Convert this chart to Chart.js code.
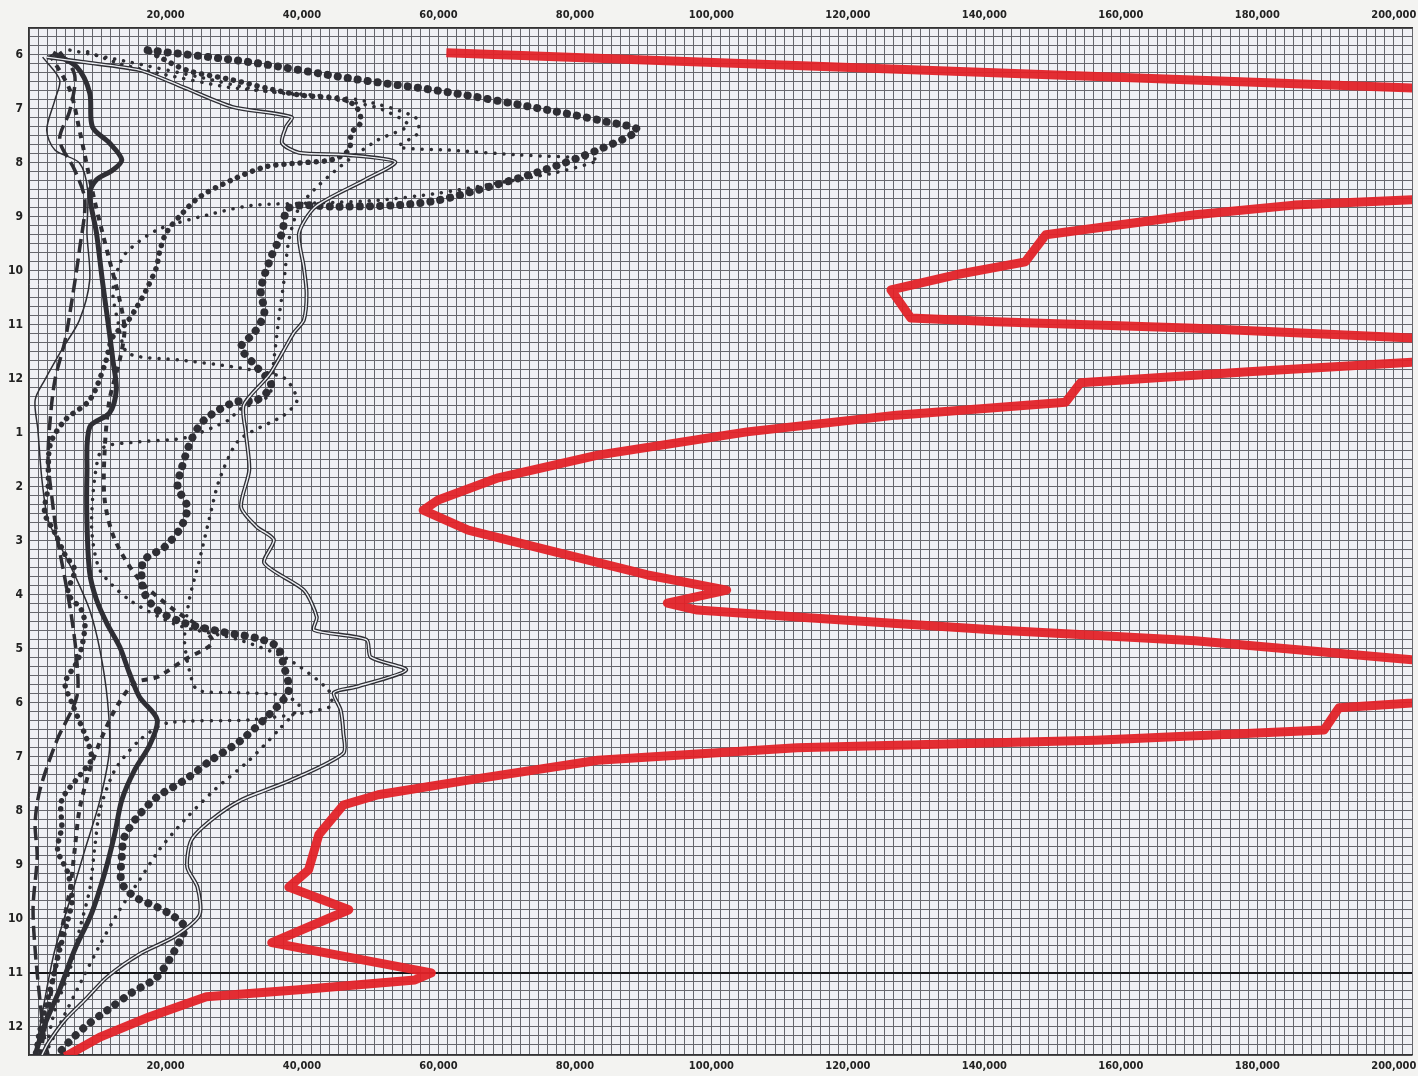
<!DOCTYPE html>
<html>
<head>
<meta charset="utf-8">
<script src="https://cdn.jsdelivr.net/npm/chart.js@4.4.1/dist/chart.umd.min.js"></script>
<style>
  html, body { margin: 0; padding: 0; background: #f3f3f1; }
  #wrap { width: 1418px; height: 1076px; }
</style>
</head>
<body>
<div id="wrap"><canvas id="traffic"></canvas></div>
<script>
// vehicles counted (x) against hour of day (y), 6 a.m. to past midnight
var hourTicks = [6, 7, 8, 9, 10, 11, 12, 13, 14, 15, 16, 17, 18, 19, 20, 21, 22, 23, 24];
var countTicks = [20000, 40000, 60000, 80000, 100000, 120000, 140000, 160000, 180000, 200000];

var redTotal = [[61200,5.96],[240000,6.78],[250000,7.7],[225000,8.4],[205000,8.67],[185500,8.78],[171000,8.96],[149100,9.33],[146100,9.83],[135900,10.07],[126400,10.35],[129300,10.87],[141800,10.94],[171000,11.06],[202800,11.24],[235000,11.44],[202800,11.69],[178200,11.87],[154200,12.07],[152000,12.43],[127200,12.67],[105300,12.98],[83400,13.41],[68800,13.83],[60000,14.24],[57800,14.43],[64400,14.8],[76100,15.17],[90700,15.63],[102300,15.91],[93600,16.15],[98000,16.28],[112600,16.41],[141800,16.65],[171000,16.85],[202800,17.2],[230000,17.55],[202800,18.0],[192100,18.09],[189900,18.5],[156400,18.69],[112600,18.83],[83400,19.06],[64400,19.43],[51200,19.7],[46100,19.89],[42500,20.44],[41000,21.09],[38100,21.41],[46900,21.83],[35600,22.44],[59000,23.0],[56600,23.13],[39600,23.31],[26000,23.44],[17700,23.81],[10400,24.19],[7000,24.43],[5300,24.55]];

var bigDots = [[17400,5.91],[32300,6.13],[46900,6.43],[61500,6.69],[76100,7.02],[84800,7.24],[89200,7.39],[83400,7.76],[74600,8.17],[65800,8.5],[60000,8.69],[54200,8.78],[45400,8.81],[38100,8.83],[37100,9.3],[35500,9.74],[34000,10.35],[34500,10.78],[33000,11.15],[31100,11.41],[33400,11.78],[35500,12.11],[33400,12.39],[30100,12.43],[25700,12.76],[23800,13.13],[22300,13.69],[21800,14.0],[23200,14.37],[22300,14.74],[19900,15.11],[16900,15.35],[16500,15.63],[16900,15.96],[18800,16.28],[22800,16.52],[28600,16.69],[33400,16.8],[36400,16.96],[37400,17.33],[38100,17.76],[36600,18.04],[31100,18.69],[26700,19.06],[22800,19.43],[18800,19.74],[15900,20.11],[14000,20.48],[13600,20.85],[13600,21.33],[15500,21.59],[18800,21.78],[21300,21.96],[22800,22.15],[22000,22.44],[18800,23.07],[15000,23.37],[11500,23.69],[8200,24.0],[5700,24.3],[4200,24.52]];

var mediumDots = [[17700,5.94],[23100,6.28],[29800,6.46],[34700,6.61],[39600,6.74],[46400,6.83],[48300,7.02],[48600,7.26],[47300,7.44],[46900,7.76],[44400,7.94],[39600,8.0],[34700,8.07],[29800,8.31],[25000,8.63],[22500,8.93],[20100,9.3],[19100,9.67],[18700,9.93],[17200,10.35],[15800,10.67],[14300,10.96],[12300,11.22],[11100,11.74],[8900,12.39],[5300,12.76],[3100,13.22],[2800,14.0],[2300,14.48],[3800,14.85],[5300,15.26],[6700,15.54],[5700,15.96],[7700,16.28],[8200,16.59],[7200,17.2],[5300,17.63],[6300,18.0],[9200,19.0],[7700,19.3],[4800,19.8],[4800,20.3],[4200,20.72],[5700,21.15],[6300,21.65],[5700,22.02],[4500,22.57],[3100,23.31],[1600,24.06],[900,24.52]];

var doubleLine = [[2600,6.04],[7900,6.13],[16200,6.28],[22500,6.59],[29800,6.96],[38500,7.15],[37700,7.33],[37100,7.63],[39600,7.81],[46400,7.85],[53700,7.98],[49300,8.31],[42000,8.81],[39600,9.3],[40300,9.93],[40700,10.41],[40300,10.91],[38800,11.15],[37400,11.46],[35200,11.93],[31500,12.48],[31800,13.0],[32300,13.69],[31100,14.37],[33400,14.74],[35900,14.98],[34500,15.41],[40300,15.91],[42200,16.41],[41800,16.65],[49500,16.83],[50100,17.15],[55300,17.39],[48000,17.7],[44700,17.81],[45700,18.13],[46100,18.56],[46100,18.93],[38400,19.43],[31100,19.8],[26700,20.17],[23800,20.54],[23200,21.04],[24700,21.41],[25000,21.93],[21300,22.33],[16500,22.63],[11500,23.07],[8200,23.5],[5300,23.87],[2800,24.3],[1900,24.52]];

var heavySolid = [[3500,5.96],[7000,6.22],[8900,6.7],[9300,7.33],[11800,7.63],[13600,7.94],[12300,8.13],[9900,8.31],[8900,8.56],[9900,9.3],[10800,10.22],[11800,11.15],[12300,11.65],[12800,12.2],[11800,12.63],[8900,12.89],[8500,13.74],[8500,14.67],[8900,15.59],[9900,16.09],[11400,16.52],[13300,16.96],[14700,17.44],[16200,17.89],[18800,18.31],[17700,18.78],[15500,19.24],[13600,19.8],[12600,20.41],[11100,21.15],[9200,21.89],[6700,22.57],[4500,23.31],[2300,23.96],[900,24.52]];

var thinSolid = [[2000,6.04],[4500,6.46],[3800,6.83],[2600,7.39],[3800,7.76],[7400,8.0],[8600,8.5],[8500,9.3],[8900,10.17],[7400,10.91],[4800,11.46],[2300,12.02],[900,12.39],[1300,12.94],[1900,13.87],[2800,14.61],[4500,15.07],[6700,15.63],[8900,16.28],[10400,17.02],[11500,17.94],[11800,18.87],[10400,19.8],[8200,20.72],[6000,21.65],[3800,22.57],[2300,23.5],[900,24.52]];

var longDash = [[4500,5.94],[6700,6.37],[6000,7.02],[4500,7.57],[6700,8.13],[8200,8.69],[7400,9.61],[6300,10.54],[5300,11.28],[3800,12.02],[3100,12.76],[2800,13.5],[3400,14.24],[4200,14.98],[5300,15.72],[6300,16.46],[7000,17.2],[7000,17.89],[4100,18.69],[1600,19.61],[900,20.22],[1200,20.85],[600,21.78],[900,22.57],[1600,23.5],[2300,24.24],[2800,24.52]];

var fineDotsA = [[8600,5.94],[13000,6.15],[18700,6.33],[28900,6.59],[34700,6.67],[48300,6.83],[56600,7.15],[57100,7.44],[54200,7.7],[61500,7.76],[71700,7.85],[83400,7.94],[77500,8.17],[68800,8.37],[60000,8.56],[51200,8.69],[42500,8.74],[33000,8.78],[27200,8.93],[18800,9.24],[14000,9.7],[12300,10.35],[13000,10.91],[14500,11.52],[22300,11.65],[30100,11.78],[37400,11.98],[39300,12.39],[37400,12.67],[30800,13.13],[27900,13.87],[26400,14.61],[25000,15.35],[23500,16.09],[22800,16.83],[23500,17.39],[24700,17.76],[30500,17.81],[36900,17.85],[39600,18.04],[36600,18.5],[32300,19.06],[27200,19.61],[22800,20.17],[19100,20.72],[16200,21.28],[13300,21.83],[10400,22.48],[7400,23.22],[4500,23.96],[2300,24.52]];

var fineDotsB = [[6000,5.91],[14700,6.13],[25000,6.41],[33700,6.65],[43900,6.81],[51200,6.98],[55600,7.3],[51200,7.57],[46900,7.94],[42500,8.41],[39600,8.83],[38100,9.43],[37400,10.17],[36600,10.91],[35900,11.65],[35200,12.3],[30800,12.57],[29300,12.76],[22800,13.09],[15500,13.17],[10800,13.28],[9600,13.87],[9200,14.8],[10400,15.54],[14700,16.09],[21800,16.56],[30800,16.83],[38100,17.2],[43900,17.76],[44200,18.07],[32600,18.31],[20300,18.37],[16200,18.69],[12600,19.24],[10400,19.98],[9600,20.72],[8900,21.46],[7400,22.2],[6000,22.94],[3800,23.69],[2300,24.52]];

var shortDash = [[3100,6.0],[6000,6.65],[7400,7.39],[9600,8.69],[11800,9.8],[13300,10.54],[14000,11.09],[13300,11.65],[11800,12.39],[11100,13.31],[11100,14.24],[12600,14.98],[16200,15.72],[21300,16.28],[25700,16.65],[26900,16.89],[22800,17.2],[18800,17.52],[15500,17.63],[13000,18.04],[10700,18.63],[8900,19.24],[7400,19.98],[6700,20.72],[6000,21.46],[4800,22.2],[3800,22.94],[2800,23.69],[1600,24.52]];

var ink = "#2e2e34";
var gridInk = "#66676d";

function pts(list) {
  return list.map(function (p) { return { x: p[0], y: p[1] }; });
}

// nearest whole multiple of step, or null if v is not close to one
function near(v, step, tol) {
  var k = v / step;
  return Math.abs(k - Math.round(k)) < tol ? Math.round(k) : null;
}

function countLabel(v) {
  var k = near(v, 20000, 0.03);
  if (k === null || k <= 0) return "";
  var val = k * 20000;
  return countTicks.indexOf(val) >= 0 ? val.toLocaleString("en-US") : "";
}

function hourLabel(v) {
  var k = near(v, 1, 0.05);
  if (k === null || hourTicks.indexOf(k) < 0) return "";
  return String(k > 12 ? k - 12 : k);
}

var paperFill = {
  id: "paperFill",
  beforeDraw: function (chart) {
    var a = chart.chartArea, c = chart.ctx;
    c.save();
    c.fillStyle = "#f0f1f5";
    c.fillRect(a.left, a.top, a.right - a.left, a.bottom - a.top);
    c.restore();
  }
};

var labelFont = { family: "'Liberation Sans Narrow', 'DejaVu Sans Condensed', sans-serif", size: 11, weight: "bold" };

new Chart(document.getElementById("traffic"), {
  type: "scatter",
  data: {
    datasets: [
      { label: "Total", data: pts(redTotal), borderColor: "rgba(226,34,40,0.95)", borderWidth: 9, tension: 0, borderJoinStyle: "round" },
      { label: "double inner", data: pts(doubleLine), borderColor: "#eceef2", borderWidth: 1.4, tension: 0.25 },
      { label: "double outer", data: pts(doubleLine), borderColor: ink, borderWidth: 4, tension: 0.25 },
      { label: "big dots", data: pts(bigDots), borderColor: ink, borderWidth: 8, borderDash: [0.1, 10], borderCapStyle: "round", tension: 0.3 },
      { label: "medium dots", data: pts(mediumDots), borderColor: ink, borderWidth: 5.5, borderDash: [0.1, 8], borderCapStyle: "round", tension: 0.3 },
      { label: "fine dots A", data: pts(fineDotsA), borderColor: ink, borderWidth: 3.5, borderDash: [0.1, 9], borderCapStyle: "round", tension: 0.25 },
      { label: "fine dots B", data: pts(fineDotsB), borderColor: ink, borderWidth: 3.5, borderDash: [0.1, 9], borderCapStyle: "round", tension: 0.25 },
      { label: "short dash", data: pts(shortDash), borderColor: ink, borderWidth: 4, borderDash: [6, 6], tension: 0.3 },
      { label: "long dash", data: pts(longDash), borderColor: ink, borderWidth: 3.5, borderDash: [14, 6], tension: 0.3 },
      { label: "thin solid", data: pts(thinSolid), borderColor: ink, borderWidth: 1.5, tension: 0.3 },
      { label: "heavy solid", data: pts(heavySolid), borderColor: ink, borderWidth: 5, tension: 0.3 }
    ]
  },
  options: {
    responsive: true,
    maintainAspectRatio: false,
    animation: false,
    showLine: true,
    layout: { padding: 0 },
    elements: { point: { radius: 0, hoverRadius: 0 } },
    plugins: { legend: { display: false }, tooltip: { enabled: false } },
    scales: {
      x: {
        type: "linear",
        position: "bottom",
        min: 0,
        max: 202800,
        afterFit: function (s) { s.height = 21; },
        ticks: { stepSize: 20000 / 15, autoSkip: false, maxRotation: 0, padding: 5, color: "#222", font: labelFont, callback: countLabel },
        grid: { color: gridInk, lineWidth: 1, drawTicks: false },
        border: { color: "#333", width: 1.5 }
      },
      x2: {
        type: "linear",
        position: "top",
        min: 0,
        max: 202800,
        afterFit: function (s) { s.height = 28; },
        ticks: { stepSize: 20000 / 15, autoSkip: false, maxRotation: 0, padding: 6, color: "#222", font: labelFont, callback: countLabel },
        grid: { display: false, drawTicks: false },
        border: { color: "#333", width: 1.5 }
      },
      y: {
        type: "linear",
        reverse: true,
        min: 5.5,
        max: 24.52,
        afterFit: function (s) { s.width = 29; },
        ticks: { stepSize: 1 / 6, autoSkip: false, padding: 6, color: "#222", font: { family: labelFont.family, size: 12, weight: "bold" }, callback: hourLabel },
        grid: {
          drawTicks: false,
          color: function (c) { return c.tick && near(c.tick.value, 1, 0.05) === 23 ? "#151518" : gridInk; },
          lineWidth: function (c) { return c.tick && near(c.tick.value, 1, 0.05) === 23 ? 2 : 1; }
        },
        border: { color: "#333", width: 1.5 }
      }
    }
  },
  plugins: [paperFill]
});
</script>
</body>
</html>
